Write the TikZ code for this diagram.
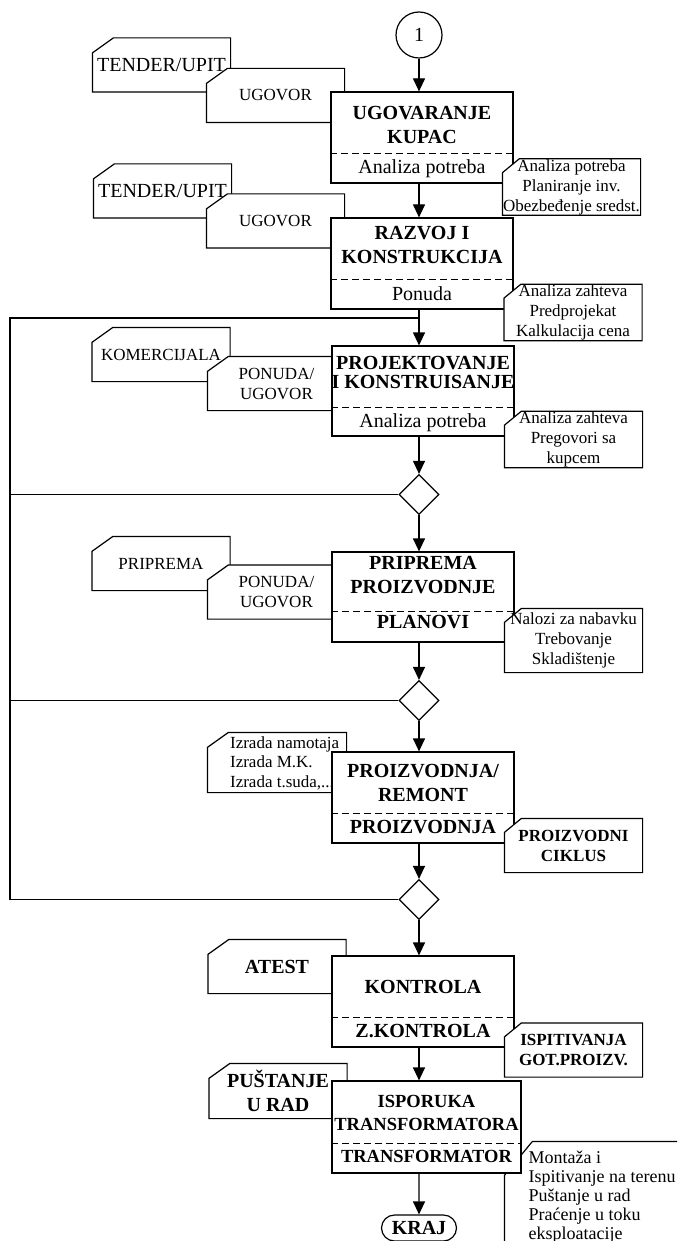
\documentclass[tikz,border=0pt]{standalone}
\usepackage{fontspec}
\setmainfont{Liberation Serif}
\usepackage{tikz}
\usetikzlibrary{arrows.meta,positioning,shapes.geometric,shapes.misc}

\makeatletter
\newdimen\cardxa \newdimen\cardya \newdimen\cardxb \newdimen\cardyb
\newdimen\cardcx \newdimen\cardcy
\pgfkeys{/pgf/card cut x/.initial=21pt,/pgf/card cut y/.initial=15pt}
\pgfdeclareshape{cutcard}{%
  \inheritsavedanchors[from=rectangle]%
  \inheritanchorborder[from=rectangle]%
  \inheritanchor[from=rectangle]{center}%
  \inheritanchor[from=rectangle]{mid}%
  \inheritanchor[from=rectangle]{base}%
  \inheritanchor[from=rectangle]{north}%
  \inheritanchor[from=rectangle]{south}%
  \inheritanchor[from=rectangle]{east}%
  \inheritanchor[from=rectangle]{west}%
  \inheritanchor[from=rectangle]{north east}%
  \inheritanchor[from=rectangle]{north west}%
  \inheritanchor[from=rectangle]{south east}%
  \inheritanchor[from=rectangle]{south west}%
  \backgroundpath{%
    \southwest \cardxa=\pgf@x \cardya=\pgf@y
    \northeast \cardxb=\pgf@x \cardyb=\pgf@y
    \pgfmathsetlength\cardcx{\pgfkeysvalueof{/pgf/card cut x}}%
    \pgfmathsetlength\cardcy{\pgfkeysvalueof{/pgf/card cut y}}%
    \pgfpathmoveto{\pgfqpoint{\cardxa}{\cardya}}%
    \pgfpathlineto{\pgfqpoint{\cardxa}{\dimexpr\cardyb-\cardcy\relax}}%
    \pgfpathlineto{\pgfqpoint{\dimexpr\cardxa+\cardcx\relax}{\cardyb}}%
    \pgfpathlineto{\pgfqpoint{\cardxb}{\cardyb}}%
    \pgfpathlineto{\pgfqpoint{\cardxb}{\cardya}}%
    \pgfpathclose
  }%
}
\makeatother

\begin{document}
\begin{tikzpicture}[
    x=1pt, y=-1pt,
    line width=1.2pt,
    font=\fontsize{20}{24}\selectfont,
    proc/.style={rectangle, draw, fill=white, minimum width=182pt, inner sep=0pt},
    divider/.style={dash pattern=on 7pt off 4pt, line width=1pt},
    headtext/.style={font=\fontsize{20}{24}\selectfont\bfseries, align=center, inner sep=0pt},
    subtext/.style={inner sep=0pt},
    subbold/.style={font=\fontsize{20}{24}\selectfont\bfseries, inner sep=0pt},
    smalltext/.style={font=\fontsize{17}{20}\selectfont},
    smallbold/.style={font=\fontsize{17}{20}\selectfont\bfseries},
    doc/.style={shape=cutcard, draw, fill=white, minimum width=137pt, minimum height=53pt, inner sep=0pt, align=center},
    note/.style={doc, smalltext, card cut x=17pt, card cut y=14pt},
    test/.style={diamond, draw, fill=white, minimum width=40pt, minimum height=40pt, inner sep=0pt},
    arrow/.style={-{Triangle[length=13pt,width=12pt]}}
]
\useasboundingbox (0,0) rectangle (677,1241);
\clip (0,0) rectangle (677,1241);

\node[circle, draw, minimum size=46pt, inner sep=0pt] (start) at (419,35) {1};

\node[doc] (tender1) at (161.5,65) {TENDER/UPIT};
\node[doc, smalltext] (ugovor1) at (275.5,95.5) {UGOVOR};
\node[proc, minimum height=91pt] (ugov) at (422,137.5) {};
\draw[divider] ([yshift=30pt]ugov.south west) -- ([yshift=30pt]ugov.south east);
\node[headtext] (ugovhead) at (422,125) {UGOVARANJE\\KUPAC};
\node[subtext] (ugovsub) at (422,169) {Analiza potreba};
\node[note] (ugovnote) at (571.5,187) {Analiza potreba\\Planiranje inv.\\Obezbeđenje sredst.};

\node[doc] (tender2) at (162.5,191) {TENDER/UPIT};
\node[doc, smalltext] (ugovor2) at (275.5,221) {UGOVOR};
\node[proc, minimum height=91pt] (razvoj) at (422,263.5) {};
\draw[divider] ([yshift=30pt]razvoj.south west) -- ([yshift=30pt]razvoj.south east);
\node[headtext] (razvojhead) at (422,245) {RAZVOJ I\\KONSTRUKCIJA};
\node[subtext] (razvojsub) at (422,294) {Ponuda};
\node[note] (razvojnote) at (573,312.5) {Analiza zahteva\\Predprojekat\\Kalkulacija cena};

\node[doc, smalltext] (komerc) at (161,354.5) {KOMERCIJALA};
\node[doc, smalltext] (ponuda3) at (276.5,383.5) {PONUDA/\\UGOVOR};
\node[proc, minimum height=90pt] (projekt) at (423,391) {};
\draw[divider] ([yshift=29pt]projekt.south west) -- ([yshift=29pt]projekt.south east);
\node[headtext, font=\fontsize{20}{19}\selectfont\bfseries] (projekthead) at (423,372) {PROJEKTOVANJE\\I KONSTRUISANJE};
\node[subtext] (projektsub) at (423,423) {Analiza potreba};
\node[note] (projektnote) at (573.5,439.5) {Analiza zahteva\\Pregovori sa\\kupcem};

\node[test] (d1) at (419,494.5) {};

\node[doc, smalltext] (priprema) at (161,563.5) {PRIPREMA};
\node[doc, smalltext] (ponuda4) at (276.5,592) {PONUDA/\\UGOVOR};
\node[proc, minimum height=90pt] (pripr) at (423,597) {};
\draw[divider] ([yshift=31pt]pripr.south west) -- ([yshift=31pt]pripr.south east);
\node[headtext] (priprhead) at (423,575.5) {PRIPREMA\\PROIZVODNJE};
\node[subbold] (priprsub) at (423,622) {PLANOVI};
\node[note, minimum height=63pt] (priprnote) at (573.5,640.5) {Nalozi za nabavku\\Trebovanje\\Skladištenje};

\node[test] (d2) at (419,700.5) {};

\node[doc, minimum width=138pt, minimum height=59pt] (izrada) at (277,762.5) {};
\node[smalltext, align=left, anchor=west, inner sep=0pt, font=\fontsize{17}{19.5}\selectfont] (izradatext) at (229.5,763) {Izrada namotaja\\Izrada M.K.\\Izrada t.suda,...};
\node[proc, minimum height=91pt] (proizv) at (423,797.5) {};
\draw[divider] ([yshift=30pt]proizv.south west) -- ([yshift=30pt]proizv.south east);
\node[headtext] (proizvhead) at (423,782.5) {PROIZVODNJA/\\REMONT};
\node[subbold] (proizvsub) at (423,827) {PROIZVODNJA};
\node[note, smallbold] (proizvnote) at (573.5,845.5) {PROIZVODNI\\CIKLUS};

\node[test] (d3) at (419,899.5) {};

\node[doc, font=\fontsize{20}{24}\selectfont\bfseries] (atest) at (277,966.5) {ATEST};
\node[proc, minimum height=91pt] (kontrola) at (423,1001.5) {};
\draw[divider] ([yshift=30pt]kontrola.south west) -- ([yshift=30pt]kontrola.south east);
\node[headtext] (kontrolahead) at (423,987) {KONTROLA};
\node[subbold] (kontrolasub) at (423,1031) {Z.KONTROLA};
\node[note, smallbold] (kontrolanote) at (573.5,1050) {ISPITIVANJA\\GOT.PROIZV.};

\node[doc, font=\fontsize{20}{24}\selectfont\bfseries, minimum height=54pt] (pustanje) at (278,1091) {PUŠTANJE\\U RAD};
\node[doc, minimum width=195pt, minimum height=120pt, card cut x=28pt, card cut y=34pt] (montaza) at (602.5,1202) {};
\node[align=left, anchor=west, inner sep=0pt, font=\fontsize{18}{19}\selectfont] (montazatext) at (528,1197) {Montaža i\\Ispitivanje na terenu\\Puštanje u rad\\Praćenje u toku\\eksploatacije};
\node[proc, minimum width=189pt, minimum height=92pt] (isporuka) at (426.5,1127) {};
\draw[divider] ([yshift=30pt]isporuka.south west) -- ([yshift=30pt]isporuka.south east);
\node[headtext, font=\fontsize{18.5}{22.5}\selectfont\bfseries] (isporukahead) at (426.5,1113) {ISPORUKA\\TRANSFORMATORA};
\node[subbold, font=\fontsize{18.5}{22.5}\selectfont\bfseries] (isporukasub) at (426.5,1156) {TRANSFORMATOR};

\node[rounded rectangle, draw, minimum width=75pt, minimum height=26pt, inner sep=0pt, font=\fontsize{20}{24}\selectfont\bfseries] (kraj) at (419,1228) {KRAJ};

\coordinate (loop) at (10,318);
\draw (d3.west) -| (loop) -- (loop -| start);
\draw (d1.west) -- (d1.west -| loop);
\draw (d2.west) -- (d2.west -| loop);

\draw[arrow] (start) -- (ugov.north -| start);
\draw[arrow] (ugov.south -| start) -- (razvoj.north -| start);
\draw[arrow] (razvoj.south -| start) -- (projekt.north -| start);
\draw[arrow] (projekt.south -| start) -- (d1);
\draw[arrow] (d1) -- (pripr.north -| start);
\draw[arrow] (pripr.south -| start) -- (d2);
\draw[arrow] (d2) -- (proizv.north -| start);
\draw[arrow] (proizv.south -| start) -- (d3);
\draw[arrow] (d3) -- (kontrola.north -| start);
\draw[arrow] (kontrola.south -| start) -- (isporuka.north -| start);
\draw[arrow] (isporuka.south -| start) -- (kraj);
\end{tikzpicture}
\end{document}
